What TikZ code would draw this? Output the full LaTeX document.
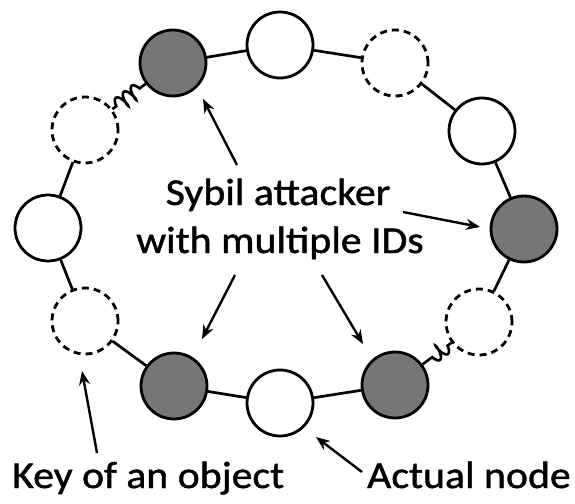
\documentclass[tikz,border=0pt]{standalone}
\usepackage{fontspec}
\setmainfont{Carlito}
\newfontfamily\capfont{Carlito}[FakeStretch=1.1, FakeBold=1.2]
\usetikzlibrary{arrows.meta,decorations.pathmorphing}
\definecolor{sybilgray}{RGB}{118,118,118}
\tikzset{
  peer/.style={circle, draw=black, line width=2.8pt, minimum size=66pt, inner sep=0pt},
  realpeer/.style={peer, fill=white},
  sybilpeer/.style={peer, fill=sybilgray},
  keypeer/.style={peer, fill=white, dash pattern=on 7pt off 5pt},
  link/.style={line width=2.7pt},
  farlink/.style={line width=2.6pt, decorate, decoration={coil, aspect=0.3, segment length=10pt, amplitude=7pt, pre length=5pt, post length=2pt}},
  pointer/.style={line width=2.4pt, -{Stealth[length=14pt,width=11pt]}},
  caption/.style={font=\capfont\fontsize{38}{48}\selectfont, inner sep=0pt}
}
\begin{document}
\begin{tikzpicture}[x=1pt, y=-1pt]
  \useasboundingbox (0,0) rectangle (575,503);

  % ring of peers, clockwise from the top
  \node[sybilpeer] (n1)  at (173,63)  {};
  \node[realpeer]  (n2)  at (280,45)  {};
  \node[keypeer]   (n3)  at (395,63)  {};
  \node[realpeer]  (n4)  at (482,131) {};
  \node[sybilpeer] (n5)  at (524,229) {};
  \node[keypeer]   (n6)  at (479,322) {};
  \node[sybilpeer] (n7)  at (395,385) {};
  \node[realpeer]  (n8)  at (280,403) {};
  \node[sybilpeer] (n9)  at (174,386) {};
  \node[keypeer]   (n10) at (85,321)  {};
  \node[realpeer]  (n11) at (48,228)  {};
  \node[keypeer]   (n12) at (85,130)  {};

  % ring links
  \draw[link] (n1) -- (n2);
  \draw[link] (n2) -- (n3);
  \draw[link] (n3) -- (n4);
  \draw[link] (n4) -- (n5);
  \draw[link] (n5) -- (n6);
  \draw[farlink] (n6) -- (n7);
  \draw[link] (n7) -- (n8);
  \draw[link] (n8) -- (n9);
  \draw[link] (n9) -- (n10);
  \draw[link] (n10) -- (n11);
  \draw[link] (n11) -- (n12);
  \draw[farlink] (n12) -- (n1);

  % labels
  \node[caption, anchor=base] (sybil1) at (278,205) {Sybil attacker};
  \node[caption, anchor=base] (sybil2) at (280,253) {with multiple IDs};
  \node[caption, anchor=base west] (keylbl) at (12,488) {Key of an object};
  \node[caption, anchor=base east] (reallbl) at (571,488) {Actual node};

  % pointer ends
  \coordinate (t1) at (237,165);  \coordinate (h1) at (203,99);
  \coordinate (t2) at (403,212);  \coordinate (h2) at (480,227);
  \coordinate (t3) at (235,275);  \coordinate (h3) at (202,339);
  \coordinate (t4) at (322,275);  \coordinate (h4) at (363,344);
  \coordinate (t5) at (97,453);   \coordinate (h5) at (82,371);
  \coordinate (t6) at (362,472);  \coordinate (h6) at (316,437);

  \draw[pointer] (t1) -- (h1);
  \draw[pointer] (t2) -- (h2);
  \draw[pointer] (t3) -- (h3);
  \draw[pointer] (t4) -- (h4);
  \draw[pointer] (t5) -- (h5);
  \draw[pointer] (t6) -- (h6);
\end{tikzpicture}
\end{document}
